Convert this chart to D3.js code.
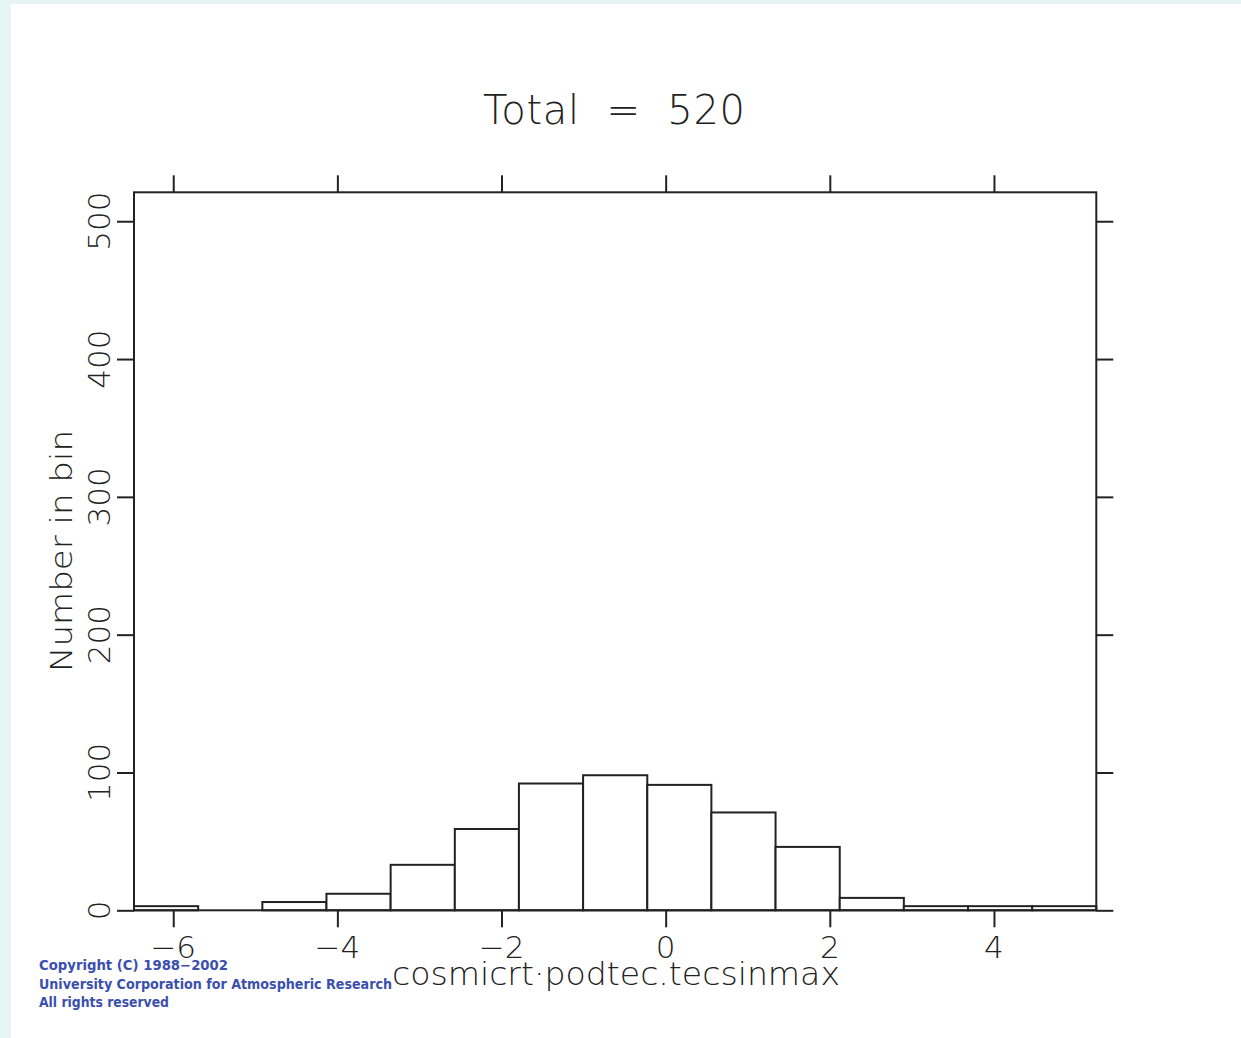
<!DOCTYPE html>
<html>
<head>
<meta charset="utf-8">
<script src="https://cdn.jsdelivr.net/npm/d3@7"></script>
<style>
  body { margin: 0; background: #e6f4f2; }
  svg { display: block; }
</style>
</head>
<body>
<script>
// histogram counts, 15 equal bins spanning the x range
const binEdges = [-6.478, -5.696, -4.914, -4.133, -3.351, -2.569, -1.788, -1.006,
                  -0.224, 0.557, 1.339, 2.121, 2.902, 3.684, 4.466, 5.247];
const counts = [3, 0, 6, 12, 33, 59, 92, 98, 91, 71, 46, 9, 3, 3, 3];
const xTicks = [-6, -4, -2, 0, 2, 4];
const yTicks = [0, 100, 200, 300, 400, 500];
const yMax = 521;
const title = "Total  =  520";
const xLabel = "cosmicrt\u00b7podtec.tecsinmax";
const yLabel = "Number in bin";
const copyright = ["Copyright (C) 1988\u22122002",
                   "University Corporation for Atmospheric Research",
                   "All rights reserved"];

const W = 1241, H = 1038;
const plotL = 134, plotR = 1096.3, plotT = 192.3, plotB = 910.3;
const ink = "#222";
const font = "'DejaVu Sans', sans-serif";

const svg = d3.select("body").append("svg")
    .attr("width", W)
    .attr("height", H);

// white panel on the cyan page
svg.append("rect")
    .attr("x", 11).attr("y", 4)
    .attr("width", W - 11).attr("height", H - 4)
    .attr("fill", "#fff");

const x = d3.scaleLinear([binEdges[0], binEdges[binEdges.length - 1]], [plotL, plotR]);
const y = d3.scaleLinear([0, yMax], [plotB, plotT]);

const bins = counts.map((c, i) => ({x0: binEdges[i], x1: binEdges[i + 1], n: c}));

svg.append("g")
    .selectAll("rect")
    .data(bins.filter(d => d.n > 0))
    .join("rect")
    .attr("x", d => x(d.x0))
    .attr("width", d => x(d.x1) - x(d.x0))
    .attr("y", d => y(d.n))
    .attr("height", d => y(0) - y(d.n))
    .attr("fill", "#fff")
    .attr("stroke", ink)
    .attr("stroke-width", 2);

// frame
svg.append("rect")
    .attr("x", plotL).attr("y", plotT)
    .attr("width", plotR - plotL).attr("height", plotB - plotT)
    .attr("fill", "none")
    .attr("stroke", ink)
    .attr("stroke-width", 2);

// tick marks only, all pointing out of the frame
const tickLen = 17;
function ticksOnly(axis, tx, ty) {
  svg.append("g")
      .attr("transform", `translate(${tx},${ty})`)
      .call(axis.tickSize(tickLen).tickSizeOuter(0).tickFormat(""))
      .call(g => g.select(".domain").remove())
      .call(g => g.selectAll(".tick line").attr("stroke", ink).attr("stroke-width", 2));
}
ticksOnly(d3.axisBottom(x).tickValues(xTicks), 0, plotB);
ticksOnly(d3.axisTop(x).tickValues(xTicks), 0, plotT);
ticksOnly(d3.axisLeft(y).tickValues(yTicks), plotL, 0);
ticksOnly(d3.axisRight(y).tickValues(yTicks), plotR, 0);

const fmt = d3.format("d");

svg.append("g")
    .selectAll("text")
    .data(xTicks)
    .join("text")
    .attr("x", d => x(d))
    .attr("y", 958)
    .attr("text-anchor", "middle")
    .attr("font-family", font)
    .attr("font-weight", 200)
    .attr("font-size", 31)
    .attr("fill", ink)
    .text(d => fmt(d));

svg.append("g")
    .selectAll("text")
    .data(yTicks)
    .join("text")
    .attr("transform", d => `translate(110,${y(d)}) rotate(-90)`)
    .attr("text-anchor", "middle")
    .attr("font-family", font)
    .attr("font-weight", 200)
    .attr("font-size", 31)
    .attr("fill", ink)
    .text(d => fmt(d));

svg.append("text")
    .attr("x", 483).attr("y", 124)
    .attr("textLength", 262)
    .attr("lengthAdjust", "spacing")
    .attr("xml:space", "preserve")
    .attr("font-family", font)
    .attr("font-weight", 200)
    .attr("font-size", 40)
    .attr("fill", ink)
    .text(title);

svg.append("text")
    .attr("x", 392).attr("y", 985)
    .attr("textLength", 448)
    .attr("lengthAdjust", "spacingAndGlyphs")
    .attr("font-family", font)
    .attr("font-weight", 200)
    .attr("font-size", 32)
    .attr("fill", ink)
    .text(xLabel);

svg.append("text")
    .attr("transform", "translate(72,672) rotate(-90)")
    .attr("textLength", 242)
    .attr("lengthAdjust", "spacingAndGlyphs")
    .attr("font-family", font)
    .attr("font-weight", 200)
    .attr("font-size", 31)
    .attr("fill", ink)
    .text(yLabel);

const cLen = [189, 353, 130];
svg.append("g")
    .selectAll("text")
    .data(copyright)
    .join("text")
    .attr("x", 39)
    .attr("y", (d, i) => 970 + i * 18.5)
    .attr("textLength", (d, i) => cLen[i])
    .attr("lengthAdjust", "spacingAndGlyphs")
    .attr("font-family", font)
    .attr("font-weight", "bold")
    .attr("font-size", 14)
    .attr("fill", "#3a4fae")
    .text(d => d);
</script>
</body>
</html>
